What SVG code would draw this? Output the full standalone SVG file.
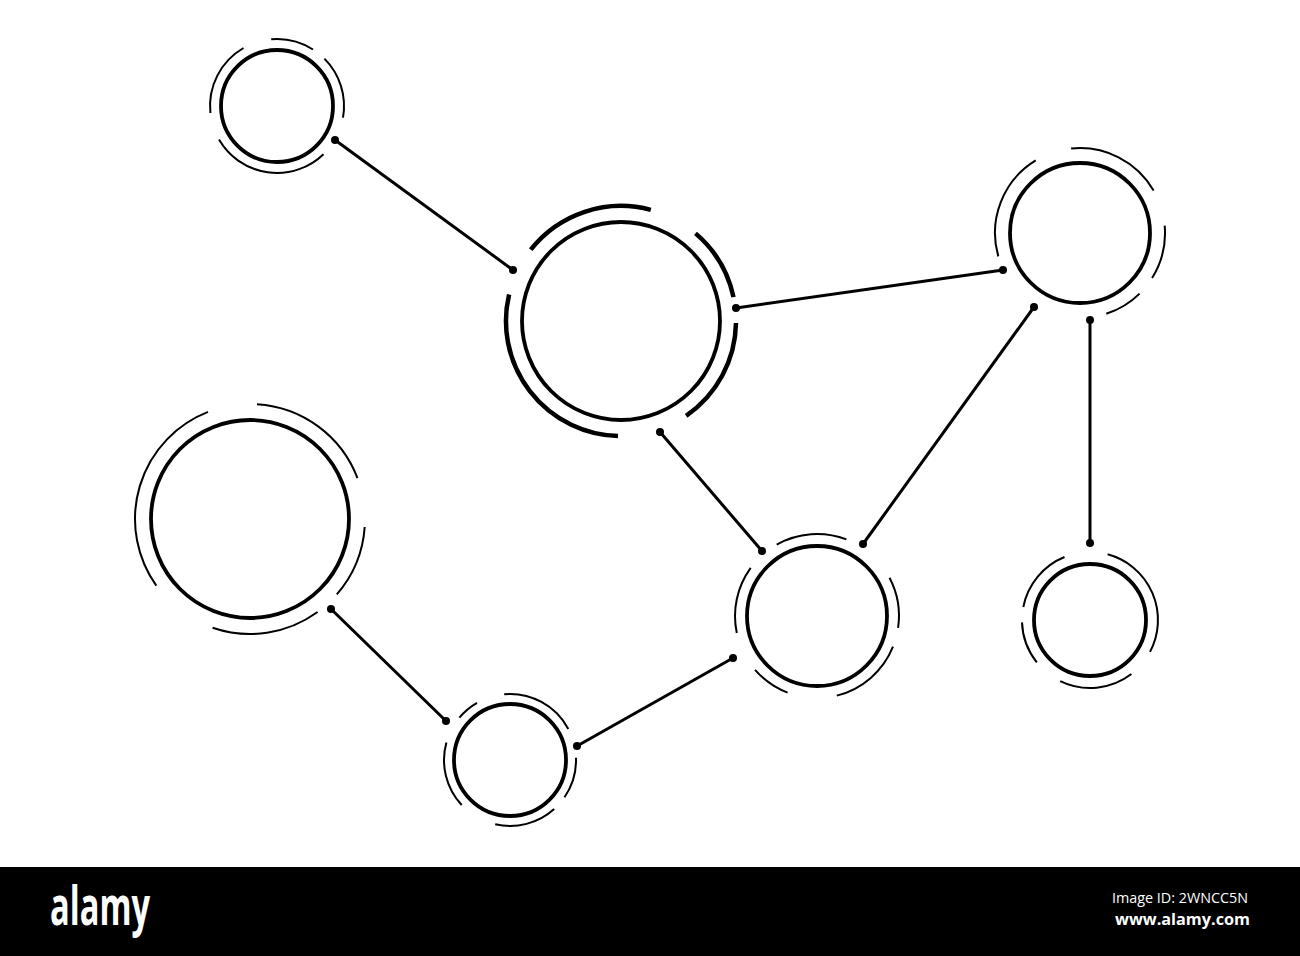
<svg xmlns="http://www.w3.org/2000/svg" width="1300" height="956" viewBox="0 0 1300 956">
<style>
.inner{fill:none;stroke:#000;stroke-width:3.8}
.arc{fill:none;stroke:#000;stroke-width:2}
.arcb{fill:none;stroke:#000;stroke-width:4.5}
.edge{stroke:#000;stroke-width:3;fill:none}
.dot{fill:#000}
.brand{fill:#fff;font-family:"Open Sans","Liberation Sans",sans-serif}
</style>
<rect width="1300" height="956" fill="#fff"/>
<g id="connectors">
<line class="edge" x1="335" y1="140" x2="513" y2="270"/>
<line class="edge" x1="736" y1="308" x2="1003" y2="270"/>
<line class="edge" x1="1034" y1="307" x2="863" y2="544"/>
<line class="edge" x1="1090" y1="320" x2="1090" y2="543"/>
<line class="edge" x1="660" y1="432" x2="762" y2="551"/>
<line class="edge" x1="733" y1="658" x2="577" y2="746"/>
<line class="edge" x1="331" y1="609" x2="446" y2="721"/>
<circle class="dot" cx="335" cy="140" r="4"/><circle class="dot" cx="513" cy="270" r="4"/>
<circle class="dot" cx="736" cy="308" r="4"/><circle class="dot" cx="1003" cy="270" r="4"/>
<circle class="dot" cx="1034" cy="307" r="4"/><circle class="dot" cx="863" cy="544" r="4"/>
<circle class="dot" cx="1090" cy="320" r="4"/><circle class="dot" cx="1090" cy="543" r="4"/>
<circle class="dot" cx="660" cy="432" r="4"/><circle class="dot" cx="762" cy="551" r="4"/>
<circle class="dot" cx="733" cy="658" r="4"/><circle class="dot" cx="577" cy="746" r="4"/>
<circle class="dot" cx="331" cy="609" r="4"/><circle class="dot" cx="446" cy="721" r="4"/>
</g>
<g id="node1">
<circle class="inner" cx="277" cy="106" r="56"/>
<path class="arc" d="M271.2,39.3 A67,67 0 0 1 313.0,49.5"/>
<path class="arc" d="M324.4,58.6 A67,67 0 0 1 343.0,117.6"/>
<path class="arc" d="M323.5,154.2 A67,67 0 0 1 219.0,139.5"/>
<path class="arc" d="M210.4,113.0 A67,67 0 0 1 243.5,48.0"/>
</g>
<g id="node2">
<circle class="inner" cx="621" cy="321" r="99"/>
<path class="arcb" d="M530.7,249.7 A115,115 0 0 1 650.8,209.9"/>
<path class="arcb" d="M695.5,233.4 A115,115 0 0 1 733.5,297.1"/>
<path class="arcb" d="M736.0,323.0 A115,115 0 0 1 686.1,415.8"/>
<path class="arcb" d="M618.0,436.0 A115,115 0 0 1 509.1,294.4"/>
</g>
<g id="node3">
<circle class="inner" cx="1080" cy="233" r="70"/>
<path class="arc" d="M1071.1,148.5 A85,85 0 0 1 1153.6,190.5"/>
<path class="arc" d="M1164.7,225.6 A85,85 0 0 1 1152.1,278.0"/>
<path class="arc" d="M1139.6,293.6 A85,85 0 0 1 1106.3,313.8"/>
<path class="arc" d="M998.3,256.4 A85,85 0 0 1 1035.7,160.4"/>
</g>
<g id="node4">
<circle class="inner" cx="250" cy="519" r="99"/>
<path class="arc" d="M257.0,404.2 A115,115 0 0 1 357.5,478.2"/>
<path class="arc" d="M364.7,527.0 A115,115 0 0 1 336.8,594.4"/>
<path class="arc" d="M317.6,612.0 A115,115 0 0 1 212.6,627.7"/>
<path class="arc" d="M156.3,585.6 A115,115 0 0 1 208.0,411.9"/>
</g>
<g id="node5">
<circle class="inner" cx="817" cy="616" r="70"/>
<path class="arc" d="M776.7,544.6 A82,82 0 0 1 846.4,539.4"/>
<path class="arc" d="M889.5,577.8 A82,82 0 0 1 898.1,627.8"/>
<path class="arc" d="M893.0,646.7 A82,82 0 0 1 836.8,695.6"/>
<path class="arc" d="M787.6,692.6 A82,82 0 0 1 755.1,669.8"/>
<path class="arc" d="M736.8,633.0 A82,82 0 0 1 750.7,567.8"/>
</g>
<g id="node6">
<circle class="inner" cx="1090" cy="620" r="56"/>
<path class="arc" d="M1107.6,554.3 A68,68 0 0 1 1150.0,651.9"/>
<path class="arc" d="M1131.4,674.0 A68,68 0 0 1 1060.2,681.1"/>
<path class="arc" d="M1036.8,662.3 A68,68 0 0 1 1022.0,622.4"/>
<path class="arc" d="M1023.3,607.0 A68,68 0 0 1 1064.5,557.0"/>
</g>
<g id="node7">
<circle class="inner" cx="510" cy="760" r="56"/>
<path class="arc" d="M459.4,717.6 A66,66 0 0 1 477.0,702.8"/>
<path class="arc" d="M504.2,694.2 A66,66 0 0 1 568.3,729.0"/>
<path class="arc" d="M576.0,757.7 A66,66 0 0 1 564.5,797.3"/>
<path class="arc" d="M554.2,809.0 A66,66 0 0 1 495.2,824.3"/>
<path class="arc" d="M461.7,805.0 A66,66 0 0 1 446.4,742.4"/>
</g>
<g id="banner">
<rect x="0" y="867" width="1300" height="89" fill="#000"/>
<text class="brand" x="50" y="925" font-size="54" font-weight="bold" textLength="100" lengthAdjust="spacingAndGlyphs">alamy</text>
<text class="brand" x="1112" y="903" font-size="14" textLength="136" lengthAdjust="spacingAndGlyphs">Image ID: 2WNCC5N</text>
<text class="brand" x="1115" y="925" font-size="16" font-weight="bold" textLength="135" lengthAdjust="spacingAndGlyphs">www.alamy.com</text>
</g>
</svg>
